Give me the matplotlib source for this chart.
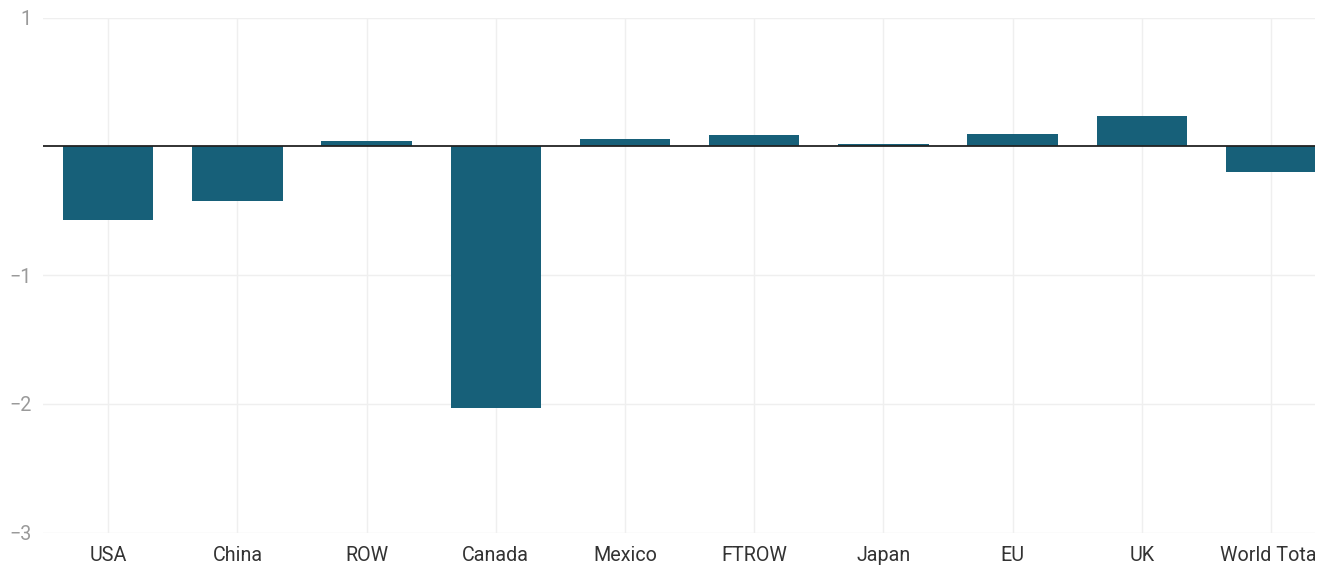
import matplotlib
matplotlib.use("Agg")
import matplotlib.pyplot as plt
from matplotlib.transforms import Bbox, TransformedBbox

plt.rcParams['font.family'] = ['Roboto', 'DejaVu Sans']

# Data
categories = ['USA', 'China', 'ROW', 'Canada', 'Mexico', 'FTROW', 'Japan', 'EU', 'UK', 'World Total']
values = [-0.572, -0.422, 0.041, -2.032, 0.057, 0.088, 0.018, 0.096, 0.235, -0.197]
y_ticks = [1, -1, -2, -3]
y_tick_labels = ['1', '\u22121', '\u22122', '\u22123']

W, H = 1330, 567
fig = plt.figure(figsize=(W / 100, H / 100), dpi=100)
ax = fig.add_axes([43 / W, (H - 532.7) / H, (1315 - 43) / W, (532.7 - 17.5) / H])

x = list(range(len(categories)))
ax.bar(x, values, width=0.70, color='#176079', zorder=2)
ax.axhline(0, color='#222222', linewidth=1.3, zorder=3)

ax.set_xlim(-0.505, 9.34)
ax.set_ylim(-3, 1)
ax.set_xticks(x)
ax.set_xticklabels(categories, fontsize=14.2, color='#333333')
ax.set_yticks(y_ticks)
ax.set_yticklabels(y_tick_labels, fontsize=14.2, color='#9a9a9a')
ax.tick_params(axis='both', length=0)
ax.tick_params(axis='x', pad=9.5)
ax.tick_params(axis='y', pad=8)

ax.grid(True, color='#efefef', linewidth=1, zorder=0)
ax.set_axisbelow(True)
for s in ax.spines.values():
    s.set_visible(False)

# the source chart cuts off at its right edge, labels included
clip = TransformedBbox(Bbox([[0, 0], [1315 / W, 1]]), fig.transFigure)
for lbl in ax.get_xticklabels():
    lbl.set_clip_on(True)
    lbl.set_clip_box(clip)

fig.savefig('out.png', dpi=100)
